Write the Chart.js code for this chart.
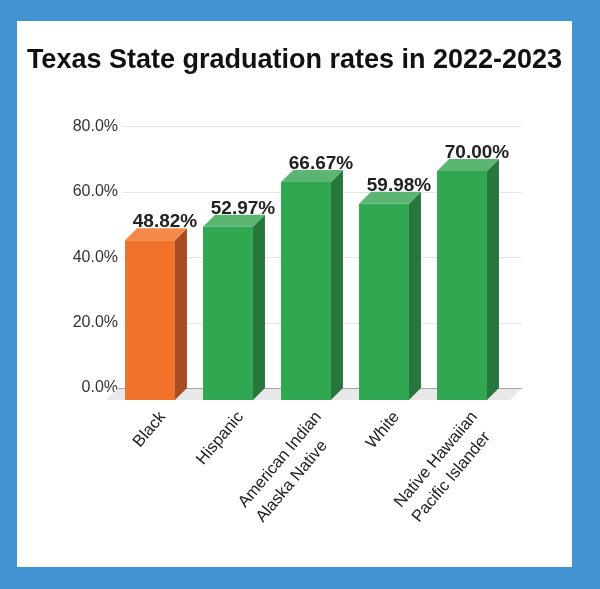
<!DOCTYPE html>
<html>
<head>
<meta charset="utf-8">
<script src="https://cdn.jsdelivr.net/npm/chart.js@4.4.1/dist/chart.umd.min.js"></script>
<style>
  html, body { margin: 0; padding: 0; background: #4293D2; width: 600px; height: 589px; overflow: hidden; }
  #panel { position: absolute; left: 17px; top: 21px; width: 555px; height: 546px; background: #ffffff; }
  canvas { display: block; }
</style>
</head>
<body>
<div id="panel"><canvas id="c" width="555" height="546"></canvas></div>
<script>
const titleText = 'Texas State graduation rates in 2022-2023';
const categories = [
  'Black',
  'Hispanic',
  ['American Indian', 'Alaska Native'],
  'White',
  ['Native Hawaiian', 'Pacific Islander']
];
const gradRates = [48.82, 52.97, 66.67, 59.98, 70.00];
const yTicks = [0, 20, 40, 60, 80];

const frontColors = ['#F1732B', '#30A751', '#30A751', '#30A751', '#30A751'];
const sideColors  = ['#A84C24', '#27773C', '#27773C', '#27773C', '#27773C'];
const topColors   = ['#F4894A', '#5BB673', '#5BB673', '#5BB673', '#5BB673'];
const DEPTH = 12;
const FONT = '"Liberation Sans", Arial, sans-serif';

const bars3d = {
  id: 'bars3d',
  beforeDatasetsDraw(chart) {
    const ctx = chart.ctx, a = chart.chartArea, y = chart.scales.y;
    const base = y.getPixelForValue(0);
    ctx.save();
    ctx.lineWidth = 1;
    yTicks.forEach(v => {
      if (v === 0) return;
      const py = Math.round(y.getPixelForValue(v)) + 0.5;
      ctx.strokeStyle = '#e6e6e6';
      ctx.beginPath(); ctx.moveTo(a.left - 1, py); ctx.lineTo(a.right + 9, py); ctx.stroke();
    });
    ctx.fillStyle = '#e8e8e8';
    ctx.beginPath();
    ctx.moveTo(a.left - 5, base);
    ctx.lineTo(a.right + 9, base);
    ctx.lineTo(a.right + 9 - DEPTH, base + DEPTH);
    ctx.lineTo(a.left - 5 - DEPTH, base + DEPTH);
    ctx.closePath(); ctx.fill();
    const pb = Math.round(base) + 0.5;
    ctx.strokeStyle = '#a6a6a6';
    ctx.beginPath(); ctx.moveTo(a.left - 5, pb); ctx.lineTo(a.right + 9, pb); ctx.stroke();
    ctx.restore();
    ctx.save();
    ctx.translate(-DEPTH, DEPTH);
  },
  afterDatasetsDraw(chart) {
    const ctx = chart.ctx;
    ctx.restore();
    const meta = chart.getDatasetMeta(0);
    meta.data.forEach((el, i) => {
      const p = el.getProps(['x', 'y', 'base', 'width'], true);
      const l = p.x - p.width / 2, r = p.x + p.width / 2;
      ctx.fillStyle = sideColors[i];
      ctx.beginPath();
      ctx.moveTo(r - DEPTH, p.y + DEPTH);
      ctx.lineTo(r, p.y);
      ctx.lineTo(r, p.base);
      ctx.lineTo(r - DEPTH, p.base + DEPTH);
      ctx.closePath(); ctx.fill();
      ctx.fillStyle = topColors[i];
      ctx.beginPath();
      ctx.moveTo(l - DEPTH, p.y + DEPTH);
      ctx.lineTo(r - DEPTH, p.y + DEPTH);
      ctx.lineTo(r, p.y);
      ctx.lineTo(l, p.y);
      ctx.closePath(); ctx.fill();
      ctx.fillStyle = '#222222';
      ctx.font = 'bold 19px ' + FONT;
      ctx.textAlign = 'center';
      ctx.textBaseline = 'alphabetic';
      ctx.fillText(gradRates[i].toFixed(2) + '%', p.x + 3, p.y - 1);
    });
  },
  afterDraw(chart) {
    const ctx = chart.ctx, xs = chart.scales.x, a = chart.chartArea;
    ctx.save();
    ctx.font = '16.5px ' + FONT;
    ctx.fillStyle = '#222222';
    ctx.textAlign = 'left';
    ctx.textBaseline = 'alphabetic';
    categories.forEach((lab, i) => {
      const lines = Array.isArray(lab) ? lab : [lab];
      const w = Math.max(...lines.map(t => ctx.measureText(t).width));
      const ex = xs.getPixelForTick(i) + 4;
      const ey = a.bottom + 29;
      ctx.save();
      ctx.translate(ex, ey);
      ctx.rotate(-50 * Math.PI / 180);
      lines.forEach((t, j) => ctx.fillText(t, -w, j * 23));
      ctx.restore();
    });
    ctx.restore();
  }
};

new Chart(document.getElementById('c'), {
  type: 'bar',
  data: {
    labels: categories,
    datasets: [{
      data: gradRates,
      backgroundColor: frontColors,
      borderWidth: 0,
      barPercentage: 0.64,
      categoryPercentage: 1.0,
      clip: false
    }]
  },
  options: {
    responsive: false,
    animation: false,
    events: [],
    layout: { padding: 0 },
    plugins: {
      legend: { display: false },
      tooltip: { enabled: false },
      title: {
        display: true,
        text: titleText,
        color: '#111111',
        font: { family: FONT, size: 27, weight: 'bold' },
        padding: { top: 23, bottom: 50 }
      }
    },
    scales: {
      x: {
        grid: { display: false, drawTicks: false },
        border: { display: false },
        afterFit(s) { s.height = 179; },
        ticks: { display: false }
      },
      y: {
        min: 0, max: 80,
        afterFit(s) { s.width = 106; },
        grid: { display: false, drawTicks: false },
        border: { display: false },
        afterBuildTicks(s) { s.ticks = yTicks.map(v => ({ value: v })); },
        ticks: {
          padding: 5,
          color: '#333333',
          font: { family: FONT, size: 16 },
          callback: v => v.toFixed(1) + '%'
        }
      },
      yRight: {
        position: 'right',
        min: 0, max: 80,
        afterFit(s) { s.width = 59; },
        grid: { display: false, drawTicks: false },
        border: { display: false },
        ticks: { display: false }
      }
    }
  },
  plugins: [bars3d]
});
</script>
</body>
</html>
